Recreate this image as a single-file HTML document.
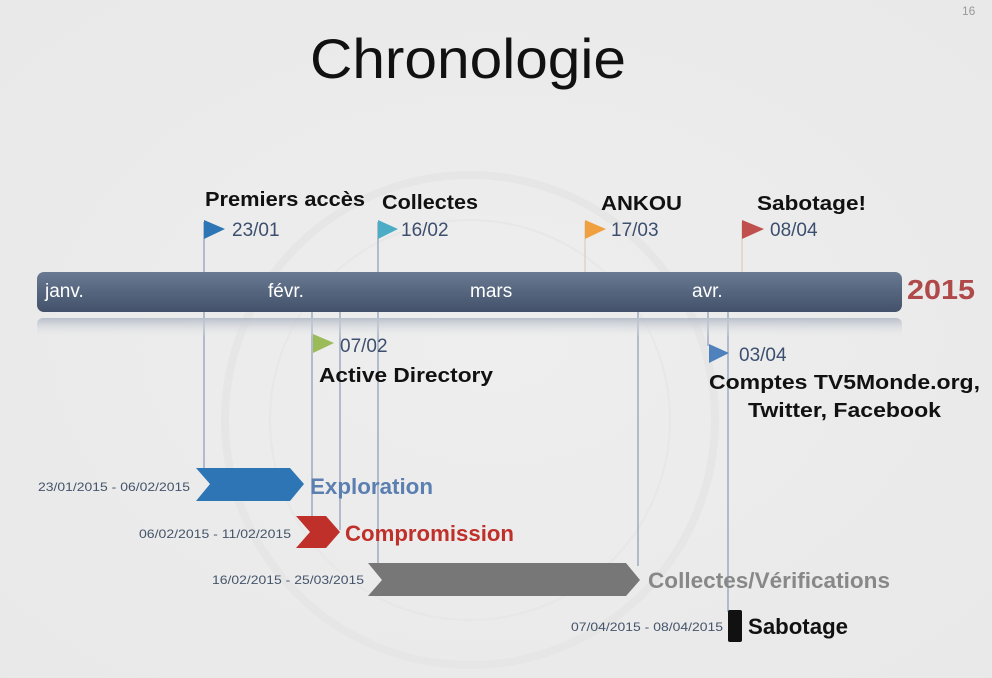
<!DOCTYPE html>
<html><head><meta charset="utf-8"><style>
html,body{margin:0;padding:0;width:992px;height:678px;overflow:hidden;background:#ececec}
svg{display:block}
text{font-family:"Liberation Sans",sans-serif}
</style></head><body>
<svg width="992" height="678" viewBox="0 0 992 678" xmlns="http://www.w3.org/2000/svg">
<defs>
<radialGradient id="bg" cx="0.5" cy="0.5" r="0.8">
<stop offset="0" stop-color="#eeeeee"/><stop offset="1" stop-color="#e8e8e8"/>
</radialGradient>
<linearGradient id="bar" x1="0" y1="0" x2="0" y2="1">
<stop offset="0" stop-color="#6a7a92"/><stop offset="0.5" stop-color="#55657e"/><stop offset="1" stop-color="#43526a"/>
</linearGradient>
<linearGradient id="refl" x1="0" y1="0" x2="0" y2="1">
<stop offset="0" stop-color="#b8bfca"/><stop offset="1" stop-color="#ececec" stop-opacity="0"/>
</linearGradient>
</defs>
<rect width="992" height="678" fill="url(#bg)"/>
<circle cx="470" cy="420" r="245" fill="none" stroke="#e6e6e6" stroke-width="8"/>
<circle cx="470" cy="420" r="200" fill="none" stroke="#e7e7e7" stroke-width="2"/>
<text x="962" y="15" font-size="12" fill="#999">16</text>
<text x="310" y="78" font-size="56" fill="#111" textLength="316" lengthAdjust="spacingAndGlyphs">Chronologie</text>

<g stroke="#8a9bb3" stroke-width="1.2">
<line x1="204" y1="222" x2="204" y2="470"/>
<line x1="312" y1="312" x2="312" y2="520"/>
<line x1="340" y1="312" x2="340" y2="530"/>
<line x1="378" y1="222" x2="378" y2="566"/>
<line x1="638" y1="312" x2="638" y2="566"/>
<line x1="708" y1="312" x2="708" y2="346"/>
<line x1="728" y1="312" x2="728" y2="612"/>
</g>
<g stroke="#d7c8b8" stroke-width="1">
<line x1="585" y1="222" x2="585" y2="272"/>
<line x1="742" y1="222" x2="742" y2="272"/>
</g>

<rect x="37" y="272" width="865" height="40" rx="7" fill="url(#bar)"/>
<rect x="37" y="318" width="865" height="20" rx="6" fill="url(#refl)"/>
<g font-size="19" fill="#fff">
<text x="45" y="297">janv.</text>
<text x="268" y="297">févr.</text>
<text x="470" y="297">mars</text>
<text x="692" y="297">avr.</text>
</g>
<text x="907" y="299" font-size="28" font-weight="bold" fill="#b04a4a" textLength="68" lengthAdjust="spacingAndGlyphs">2015</text>

<g font-size="20" font-weight="bold" fill="#111">
<text x="205" y="206" textLength="160" lengthAdjust="spacingAndGlyphs">Premiers accès</text>
<text x="382" y="209" textLength="96" lengthAdjust="spacingAndGlyphs">Collectes</text>
<text x="601" y="210" textLength="81" lengthAdjust="spacingAndGlyphs">ANKOU</text>
<text x="757" y="210" textLength="109" lengthAdjust="spacingAndGlyphs">Sabotage!</text>
</g>
<polygon points="204,220 225,229 204,239" fill="#2e75b6"/>
<polygon points="378,220 398,229 378,239" fill="#4bacc6"/>
<polygon points="585,220 606,229 585,239" fill="#f0a040"/>
<polygon points="742,220 764,229 742,239" fill="#c0504d"/>
<g font-size="19" fill="#3d4f6e">
<text x="232" y="236">23/01</text>
<text x="401" y="236">16/02</text>
<text x="611" y="236">17/03</text>
<text x="770" y="236">08/04</text>
<text x="340" y="352">07/02</text>
<text x="739" y="361">03/04</text>
</g>
<polygon points="313,334 334,343 313,353" fill="#9bbb59"/>
<polygon points="709,344 729,353 709,363" fill="#4f81bd"/>
<g font-size="20" font-weight="bold" fill="#111">
<text x="319" y="382" textLength="174" lengthAdjust="spacingAndGlyphs">Active Directory</text>
<text x="709" y="389" textLength="271" lengthAdjust="spacingAndGlyphs">Comptes TV5Monde.org,</text>
<text x="748" y="417" textLength="193" lengthAdjust="spacingAndGlyphs">Twitter, Facebook</text>
</g>

<g font-size="12" fill="#44546a">
<text x="38" y="491" textLength="152" lengthAdjust="spacingAndGlyphs">23/01/2015 - 06/02/2015</text>
<text x="139" y="538" textLength="152" lengthAdjust="spacingAndGlyphs">06/02/2015 - 11/02/2015</text>
<text x="212" y="584" textLength="152" lengthAdjust="spacingAndGlyphs">16/02/2015 - 25/03/2015</text>
<text x="571" y="631" textLength="152" lengthAdjust="spacingAndGlyphs">07/04/2015 - 08/04/2015</text>
</g>
<polygon points="196,468 290,468 304,484 290,501 196,501 210,484" fill="#2e75b6"/>
<polygon points="296,516 326,516 340,532 326,548 296,548 310,532" fill="#c0302a"/>
<polygon points="368,563 626,563 640,580 626,596 368,596 382,580" fill="#777"/>
<rect x="728" y="610" width="14" height="32" rx="2" fill="#111"/>
<g font-size="22" font-weight="bold">
<text x="310" y="494" fill="#5b7fb0" textLength="123" lengthAdjust="spacingAndGlyphs">Exploration</text>
<text x="345" y="541" fill="#c0302a" textLength="169" lengthAdjust="spacingAndGlyphs">Compromission</text>
<text x="648" y="588" fill="#888" textLength="242" lengthAdjust="spacingAndGlyphs">Collectes/Vérifications</text>
<text x="748" y="634" fill="#111" textLength="100" lengthAdjust="spacingAndGlyphs">Sabotage</text>
</g>
</svg>
</body></html>
